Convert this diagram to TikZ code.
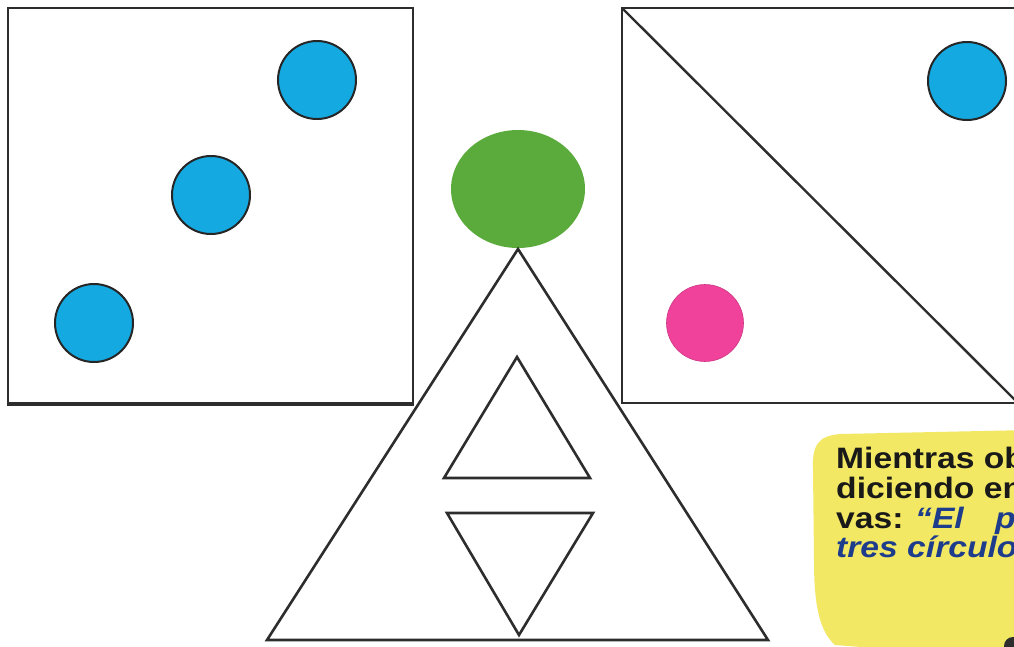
\documentclass[tikz,border=0pt]{standalone}
\usepackage{fontspec}
\setmainfont{Liberation Sans}
\newfontfamily\notefont[FakeStretch=1.14]{Liberation Sans}
\usetikzlibrary{shapes.geometric}
\definecolor{dotblue}{RGB}{20,170,225}
\definecolor{dotpink}{RGB}{240,65,155}
\definecolor{dotgreen}{RGB}{90,170,60}
\definecolor{blobyellow}{RGB}{242,232,100}
\definecolor{inkgray}{RGB}{45,45,45}
\definecolor{quoteblue}{RGB}{30,60,140}
\tikzset{
  frame/.style={draw=inkgray, line width=2.4pt},
  tri/.style={draw=inkgray, line width=2.6pt, line join=miter},
  bluedot/.style={circle, draw=black!85, line width=2pt, fill=dotblue, minimum size=78pt, inner sep=0pt},
  pinkdot/.style={circle, fill=dotpink, draw=dotpink!85!black, line width=0.6pt, minimum size=78pt, inner sep=0pt},
  greendot/.style={ellipse, fill=dotgreen, minimum width=134pt, minimum height=118pt, inner sep=0pt},
  txt/.style={anchor=base west, inner sep=0pt, text=black!90, font=\notefont\fontsize{29.5}{30}\selectfont\bfseries},
  qtxt/.style={txt, text=quoteblue, font=\notefont\fontsize{29.5}{30}\selectfont\bfseries\itshape}
}
\begin{document}
\begin{tikzpicture}[x=1pt,y=-1pt]
\useasboundingbox (0,0) rectangle (1014,646);
\clip (0,0) rectangle (1014,646);
\fill[white] (0,0) rectangle (1014,646);
% left square
\draw[frame] (8,8) rectangle (413,404);
\draw[inkgray, line width=4.5pt] (7,404) -- (414,404);
\node[bluedot] (b1) at (317,80) {};
\node[bluedot] (b2) at (211,195) {};
\node[bluedot] (b3) at (94,323) {};
% right square with diagonal
\draw[frame] (1030,8) -- (622,8) -- (622,403) -- (1030,403);
\draw[frame] (622,8) -- (1018,403);
\node[bluedot] (b4) at (967,81) {};
\node[pinkdot, minimum size=77pt] (p1) at (705,323) {};
% green dot and triangles
\node[greendot] (g) at (518,189) {};
\coordinate (apex) at (518,249);
\coordinate (bl) at (267,640);
\coordinate (br) at (768,640);
\draw[tri] (apex) -- (bl) -- (br) -- cycle;
\draw[tri] (517,357) -- (444,478) -- (590,478) -- cycle;
\draw[tri] (447,513) -- (593,513) -- (519,635) -- cycle;
% yellow note
\fill[blobyellow] (813,470) .. controls (812,445) and (818,436) .. (840,434)
  -- (1030,430) -- (1030,660) -- (835,645)
  .. controls (818,630) and (814,600) .. (814,560) -- cycle;
\node[txt] (l1) at (836,468) {Mientras ob};
\node[txt] (l2) at (836,498) {diciendo en};
\node[txt] (l3a) at (836,528) {vas:};
\node[qtxt] (l3b) at (915,528) {“El};
\node[qtxt] (l3c) at (995,528) {p};
\node[qtxt] (l4) at (836,557) {tres círculo};
\fill[inkgray] (1013,646) circle (9pt);
\end{tikzpicture}
\end{document}
